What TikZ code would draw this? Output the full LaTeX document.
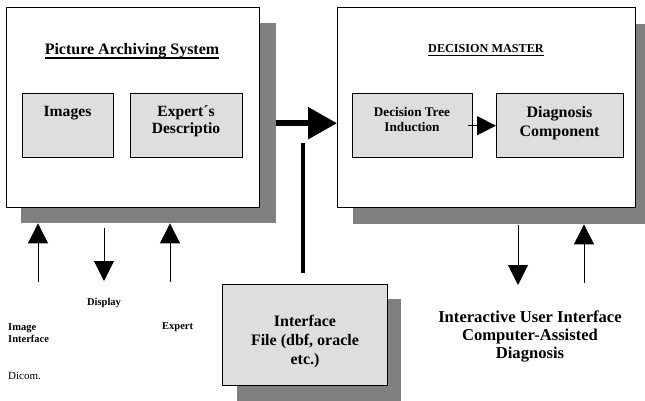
\documentclass[tikz,border=0pt]{standalone}
\usepackage{fontspec}
\setmainfont{Liberation Serif}
\usetikzlibrary{arrows.meta}
\definecolor{shadowgray}{HTML}{808080}
\definecolor{innerfill}{HTML}{DEDEDE}
\tikzset{
  bigbox/.style={draw=black, line width=0.9pt, fill=white, anchor=north west, inner sep=0pt},
  innerbox/.style={draw=black, line width=1.4pt, fill=innerfill, anchor=north west, inner sep=0pt},
  shadowbox/.style={fill=shadowgray, draw=none, anchor=north west, inner sep=0pt},
  lbl/.style={font=\bfseries, align=center, inner sep=0pt},
  thinarrow/.style={line width=1pt, -{Triangle[length=20pt,width=20pt]}},
}
\newcommand{\fsz}[2]{\fontsize{#1}{#2}\selectfont}
\begin{document}
\begin{tikzpicture}[x=1pt,y=-1pt]
\useasboundingbox (0,0) rectangle (645,401);
% shadows
\node[shadowbox, minimum width=255pt, minimum height=200pt] (pasS) at (21,23) {};
\node[shadowbox, minimum width=300pt, minimum height=200pt] (dmS) at (353,24) {};
\node[shadowbox, minimum width=164pt, minimum height=110pt] (ifS) at (237,299) {};
% main boxes
\node[bigbox, minimum width=253pt, minimum height=200pt] (pas) at (6,7) {};
\node[bigbox, minimum width=298pt, minimum height=200pt] (dm) at (337,7) {};
\node[innerbox, minimum width=165pt, minimum height=101pt] (ifb) at (222,284) {};
% inner boxes
\node[innerbox, minimum width=91pt, minimum height=64pt] (img) at (22,93) {};
\node[innerbox, minimum width=112pt, minimum height=64pt] (exd) at (130,93) {};
\node[innerbox, minimum width=120pt, minimum height=64pt] (dt) at (352,93) {};
\node[innerbox, minimum width=127pt, minimum height=64pt] (dx) at (496,93) {};
% titles
\node[lbl, font=\bfseries\fsz{16}{18}, anchor=base] (pasT) at (132,55) {Picture Archiving System};
\draw[line width=1.5pt] ([yshift=-3pt]pasT.base west) -- ([yshift=-3pt]pasT.base east);
\node[lbl, font=\bfseries\fsz{12.2}{14}, anchor=base] (dmT) at (486,53) {DECISION MASTER};
\draw[line width=1.1pt] ([yshift=-2.5pt]dmT.base west) -- ([yshift=-2.5pt]dmT.base east);
% inner texts
\node[lbl, font=\bfseries\fsz{15.6}{17}] (imgT) at (67.5,113) {Images};
\node[lbl, font=\bfseries\fsz{15.6}{17}] (exdT) at (186,121) {Expert´s\\Descriptio};
\node[lbl, font=\bfseries\fsz{13.2}{15}] (dtT) at (412,120) {Decision Tree\\Induction};
\node[lbl, font=\bfseries\fsz{16}{19}] (dxT) at (559.5,123) {Diagnosis\\Component};
\node[lbl, font=\bfseries\fsz{16}{19}] (ifT) at (305,342) {Interface\\File (dbf, oracle\\etc.)};
\node[lbl, font=\bfseries\fsz{16.6}{18}] (iuT) at (530,336) {Interactive User Interface\\Computer-Assisted\\Diagnosis};
% small labels
\node[lbl, font=\bfseries\fsz{10.5}{12}] (dispT) at (104,303) {Display};
\node[lbl, font=\bfseries\fsz{10.5}{12}, anchor=west, align=left] (imiT) at (8,333) {Image\\Interface};
\node[lbl, font=\bfseries\fsz{10.5}{12}, anchor=west, align=left] (expT) at (162,327) {Expert};
\node[lbl, font=\fsz{11}{13}, anchor=west, align=left] (dicT) at (8,376) {Dicom.};
% big arrow between systems
\draw[line width=5.5pt, -{Triangle[length=29pt,width=31pt]}] (pasS.east) -- (pasS.east -| dm.west);
% vertical connector to interface file
\coordinate (vtop) at (303,143);
\draw[line width=4pt] (vtop) -- ([yshift=11pt]vtop |- ifb.north);
% inner arrow
\draw[line width=1.3pt, -{Triangle[length=19pt,width=19pt]}] ([xshift=-5pt]dt.east) -- (dx.west);
% bottom-left arrows
\coordinate (a1) at (38,282);
\coordinate (a2) at (104,228);
\coordinate (a2e) at (104,281);
\coordinate (a3) at (170,282);
\draw[thinarrow] (a1) -- (a1 |- pasS.south);
\draw[thinarrow] (a2) -- (a2e);
\draw[thinarrow] (a3) -- (a3 |- pasS.south);
% bottom-right arrows
\coordinate (b1) at (518,225);
\coordinate (b1e) at (518,285);
\coordinate (b2) at (584,283);
\draw[thinarrow] (b1) -- (b1e);
\draw[thinarrow] (b2) -- (b2 |- dmS.south);
\end{tikzpicture}
\end{document}
